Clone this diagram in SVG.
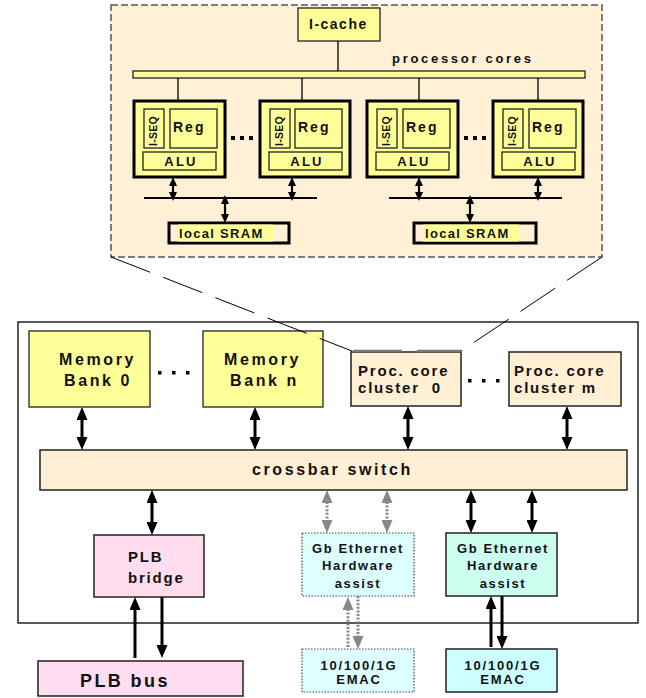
<svg xmlns="http://www.w3.org/2000/svg" width="646" height="698" viewBox="0 0 646 698">
<style>
.t{font-family:"Liberation Sans",Arial,sans-serif;font-weight:bold;fill:#111}
.y{fill:#FFFF99;stroke:#222;stroke-width:1.3}
.core{fill:#FFFF99;stroke:#000;stroke-width:3}
.b{fill:#FFEFD5;stroke:#222;stroke-width:1.5}
.ln{stroke:#000;stroke-width:1.3;fill:none}
.big{stroke:#000;stroke-width:3;fill:none}
.sm{stroke:#000;stroke-width:2.2;fill:none}
.gr{stroke:#888;stroke-width:3;stroke-dasharray:2 1.6;fill:none}
.zoom{stroke:#000;stroke-width:1;stroke-dasharray:42 14;fill:none}
</style>
<defs>
<marker id="ah" viewBox="0 0 13 11" refX="1" refY="5.5" markerWidth="13" markerHeight="11" markerUnits="userSpaceOnUse" orient="auto-start-reverse"><path d="M0,0 L13,5.5 L0,11 z" fill="#000"/></marker>
<marker id="ag" viewBox="0 0 13 11" refX="1" refY="5.5" markerWidth="13" markerHeight="11" markerUnits="userSpaceOnUse" orient="auto-start-reverse"><path d="M0,0 L13,5.5 L0,11 z" fill="#888"/></marker>
<marker id="as" viewBox="0 0 9 8" refX="1" refY="4" markerWidth="9" markerHeight="8" markerUnits="userSpaceOnUse" orient="auto-start-reverse"><path d="M0,0 L9,4 L0,8 z" fill="#000"/></marker>
</defs>

<g id="cluster-detail">
<rect x="111" y="5" width="491" height="252" fill="#FFF0D6" stroke="#555" stroke-width="1.5" stroke-dasharray="7 3"/>
</g>

<g id="icache"><rect class="y" x="298" y="8" width="82" height="33"/><text class="t" x="309" y="29" font-size="14" letter-spacing="1.5">I-cache</text></g>
<g id="bus"><rect class="y" x="133" y="71" width="452" height="7"/><text class="t" x="392" y="63" font-size="13" letter-spacing="2.7">processor cores</text></g>

<g id="core1">
<rect class="core" x="134" y="101" width="91" height="76"/>
<rect class="y" x="144" y="109" width="20" height="39"/>
<text class="t" transform="translate(157,131) rotate(-90)" text-anchor="middle" font-size="10.5" letter-spacing="0.3">I-SEQ</text>
<rect class="y" x="170" y="109" width="47" height="39"/><text class="t" x="173" y="132" font-size="14" letter-spacing="2">Reg</text>
<rect class="y" x="143" y="152" width="73" height="18"/><text class="t" x="181" y="166" text-anchor="middle" font-size="13" letter-spacing="2.2">ALU</text>
</g>
<g id="core2">
<rect class="core" x="260" y="101" width="90" height="76"/>
<rect class="y" x="270" y="109" width="20" height="39"/>
<text class="t" transform="translate(283,131) rotate(-90)" text-anchor="middle" font-size="10.5" letter-spacing="0.3">I-SEQ</text>
<rect class="y" x="295" y="109" width="47" height="39"/><text class="t" x="298" y="132" font-size="14" letter-spacing="2">Reg</text>
<rect class="y" x="269" y="152" width="73" height="18"/><text class="t" x="307" y="166" text-anchor="middle" font-size="13" letter-spacing="2.2">ALU</text>
</g>
<g id="core3">
<rect class="core" x="367" y="101" width="91" height="76"/>
<rect class="y" x="377" y="109" width="20" height="39"/>
<text class="t" transform="translate(390,131) rotate(-90)" text-anchor="middle" font-size="10.5" letter-spacing="0.3">I-SEQ</text>
<rect class="y" x="403" y="109" width="47" height="39"/><text class="t" x="406" y="132" font-size="14" letter-spacing="2">Reg</text>
<rect class="y" x="376" y="152" width="73" height="18"/><text class="t" x="414" y="166" text-anchor="middle" font-size="13" letter-spacing="2.2">ALU</text>
</g>
<g id="core4">
<rect class="core" x="493" y="101" width="90" height="76"/>
<rect class="y" x="503" y="109" width="20" height="39"/>
<text class="t" transform="translate(516,131) rotate(-90)" text-anchor="middle" font-size="10.5" letter-spacing="0.3">I-SEQ</text>
<rect class="y" x="529" y="109" width="47" height="39"/><text class="t" x="532" y="132" font-size="14" letter-spacing="2">Reg</text>
<rect class="y" x="502" y="152" width="73" height="18"/><text class="t" x="540" y="166" text-anchor="middle" font-size="13" letter-spacing="2.2">ALU</text>
</g>

<g id="sram1">
<rect x="169" y="223" width="120" height="20" fill="#FFF0D6" stroke="#000" stroke-width="3"/>
<rect x="178" y="224.5" width="95" height="17" fill="#FFFF99"/>
<text class="t" x="179" y="238" font-size="13" letter-spacing="1.3">local SRAM</text>
</g>
<g id="sram2">
<rect x="414" y="223" width="122" height="20" fill="#FFF0D6" stroke="#000" stroke-width="3"/>
<rect x="423" y="224.5" width="96" height="17" fill="#FFFF99"/>
<text class="t" x="425" y="238" font-size="13" letter-spacing="1.3">local SRAM</text>
</g>

<g id="dots" fill="#000">
<rect x="231" y="136" width="4" height="4"/><rect x="240" y="136" width="4" height="4"/><rect x="249" y="136" width="4" height="4"/>
<rect x="464" y="136" width="4" height="4"/><rect x="473" y="136" width="4" height="4"/><rect x="482" y="136" width="4" height="4"/>
<rect x="158" y="371" width="3.5" height="3.5"/><rect x="172" y="371" width="3.5" height="3.5"/><rect x="186" y="371" width="3.5" height="3.5"/>
<rect x="468" y="379" width="3.5" height="3.5"/><rect x="482" y="379" width="3.5" height="3.5"/><rect x="496" y="379" width="3.5" height="3.5"/>
</g>

<g id="chip"><rect x="18" y="322" width="620" height="301" fill="none" stroke="#000" stroke-width="1.3"/></g>

<g id="mem0"><rect class="y" x="29" y="331" width="121" height="76" stroke-width="1.5"/>
<text class="t" x="59" y="365" font-size="16" letter-spacing="2.6">Memory</text><text class="t" x="64" y="386" font-size="16" letter-spacing="2.6">Bank 0</text></g>
<g id="memn"><rect class="y" x="203" y="331" width="120" height="76" stroke-width="1.5"/>
<text class="t" x="224" y="365" font-size="16" letter-spacing="2.6">Memory</text><text class="t" x="230" y="386" font-size="16" letter-spacing="2.6">Bank n</text></g>

<g id="pc0"><rect class="b" x="351" y="352" width="110" height="54"/>
<line x1="353" y1="351" x2="461" y2="351" stroke="#777" stroke-width="2.5" stroke-dasharray="49 15"/>
<text class="t" x="358" y="376" font-size="15" letter-spacing="1.8">Proc. core</text><text class="t" x="358" y="393" font-size="15" letter-spacing="1.8" style="white-space:pre">cluster  0</text></g>
<g id="pcm"><rect class="b" x="509" y="352" width="112" height="54"/>
<text class="t" x="514" y="376" font-size="15" letter-spacing="1.8">Proc. core</text><text class="t" x="514" y="393" font-size="15" letter-spacing="1.8">cluster m</text></g>

<g id="crossbar"><rect class="b" x="40" y="450" width="587" height="40"/>
<text class="t" x="252" y="475" font-size="16" letter-spacing="2.6">crossbar switch</text></g>

<g id="plbbridge"><rect x="94" y="535" width="110" height="62" fill="#FFDDEE" stroke="#222" stroke-width="1.5"/>
<text class="t" x="128" y="562" font-size="15" letter-spacing="1.8">PLB</text><text class="t" x="128" y="583" font-size="15" letter-spacing="1.8">bridge</text></g>
<g id="plbbus"><rect x="38" y="661" width="205" height="35" fill="#FFDDF0" stroke="#222" stroke-width="1.5"/>
<text class="t" x="80" y="687" font-size="18" letter-spacing="2.4">PLB bus</text></g>

<g id="gbe1"><rect x="302" y="533" width="112" height="63" fill="#DDFFFF" stroke="#444" stroke-width="1.2" stroke-dasharray="1.5 1.5"/>
<text class="t" x="358" y="553" text-anchor="middle" font-size="13" letter-spacing="1.6">Gb Ethernet</text>
<text class="t" x="358" y="570" text-anchor="middle" font-size="13" letter-spacing="1.6">Hardware</text>
<text class="t" x="358" y="588" text-anchor="middle" font-size="13" letter-spacing="1.6">assist</text></g>
<g id="gbe2"><rect x="446" y="533" width="111" height="63" fill="#CCFFF0" stroke="#222" stroke-width="1.5"/>
<text class="t" x="503" y="553" text-anchor="middle" font-size="13" letter-spacing="1.6">Gb Ethernet</text>
<text class="t" x="503" y="570" text-anchor="middle" font-size="13" letter-spacing="1.6">Hardware</text>
<text class="t" x="503" y="588" text-anchor="middle" font-size="13" letter-spacing="1.6">assist</text></g>
<g id="emac1"><rect x="302" y="649" width="112" height="43" fill="#DDFFFF" stroke="#444" stroke-width="1.2" stroke-dasharray="1.5 1.5"/>
<text class="t" x="359" y="670" text-anchor="middle" font-size="13" letter-spacing="1.8">10/100/1G</text>
<text class="t" x="359" y="684" text-anchor="middle" font-size="13" letter-spacing="1.8">EMAC</text></g>
<g id="emac2"><rect x="446" y="649" width="111" height="43" fill="#CCFFFF" stroke="#222" stroke-width="1.5"/>
<text class="t" x="503" y="670" text-anchor="middle" font-size="13" letter-spacing="1.8">10/100/1G</text>
<text class="t" x="503" y="684" text-anchor="middle" font-size="13" letter-spacing="1.8">EMAC</text></g>

<g id="connectors">
<line class="ln" x1="338" y1="41" x2="338" y2="71"/>
<line class="ln" x1="178" y1="78" x2="178" y2="101"/>
<line class="ln" x1="302" y1="78" x2="302" y2="101"/>
<line class="ln" x1="419" y1="78" x2="419" y2="101"/>
<line class="ln" x1="538" y1="78" x2="538" y2="101"/>
<line x1="144" y1="198" x2="317" y2="198" stroke="#000" stroke-width="2.2"/>
<line x1="389" y1="198" x2="562" y2="198" stroke="#000" stroke-width="2.2"/>
<line class="sm" x1="173" y1="185" x2="173" y2="193" marker-start="url(#as)" marker-end="url(#as)"/>
<line class="sm" x1="292" y1="185" x2="292" y2="193" marker-start="url(#as)" marker-end="url(#as)"/>
<line class="sm" x1="419" y1="185" x2="419" y2="193" marker-start="url(#as)" marker-end="url(#as)"/>
<line class="sm" x1="538" y1="185" x2="538" y2="193" marker-start="url(#as)" marker-end="url(#as)"/>
<line class="sm" x1="225" y1="203" x2="225" y2="215" marker-start="url(#as)" marker-end="url(#as)"/>
<line class="sm" x1="470" y1="203" x2="470" y2="215" marker-start="url(#as)" marker-end="url(#as)"/>
<line class="zoom" x1="111" y1="257" x2="352" y2="351"/>
<line class="zoom" x1="602" y1="257" x2="461" y2="351"/>
<line class="big" x1="82" y1="419" x2="82" y2="438" marker-start="url(#ah)" marker-end="url(#ah)"/>
<line class="big" x1="255" y1="419" x2="255" y2="438" marker-start="url(#ah)" marker-end="url(#ah)"/>
<line class="big" x1="408" y1="418" x2="408" y2="438" marker-start="url(#ah)" marker-end="url(#ah)"/>
<line class="big" x1="567" y1="418" x2="567" y2="438" marker-start="url(#ah)" marker-end="url(#ah)"/>
<line class="big" x1="152" y1="502" x2="152" y2="523" marker-start="url(#ah)" marker-end="url(#ah)"/>
<line class="big" x1="471" y1="502" x2="471" y2="521" marker-start="url(#ah)" marker-end="url(#ah)"/>
<line class="big" x1="532" y1="502" x2="532" y2="521" marker-start="url(#ah)" marker-end="url(#ah)"/>
<line class="gr" x1="327" y1="502" x2="327" y2="521" marker-start="url(#ag)" marker-end="url(#ag)"/>
<line class="gr" x1="387" y1="502" x2="387" y2="521" marker-start="url(#ag)" marker-end="url(#ag)"/>
<line class="big" x1="135" y1="658" x2="135" y2="609" marker-end="url(#ah)"/>
<line class="big" x1="162" y1="597" x2="162" y2="646" marker-end="url(#ah)"/>
<line class="big" x1="491" y1="647" x2="491" y2="608" marker-end="url(#ah)"/>
<line class="big" x1="502" y1="596" x2="502" y2="637" marker-end="url(#ah)"/>
<line class="gr" x1="348" y1="647" x2="348" y2="609" marker-end="url(#ag)"/>
<line class="gr" x1="358" y1="596" x2="358" y2="637" marker-end="url(#ag)"/>
</g>
</svg>
